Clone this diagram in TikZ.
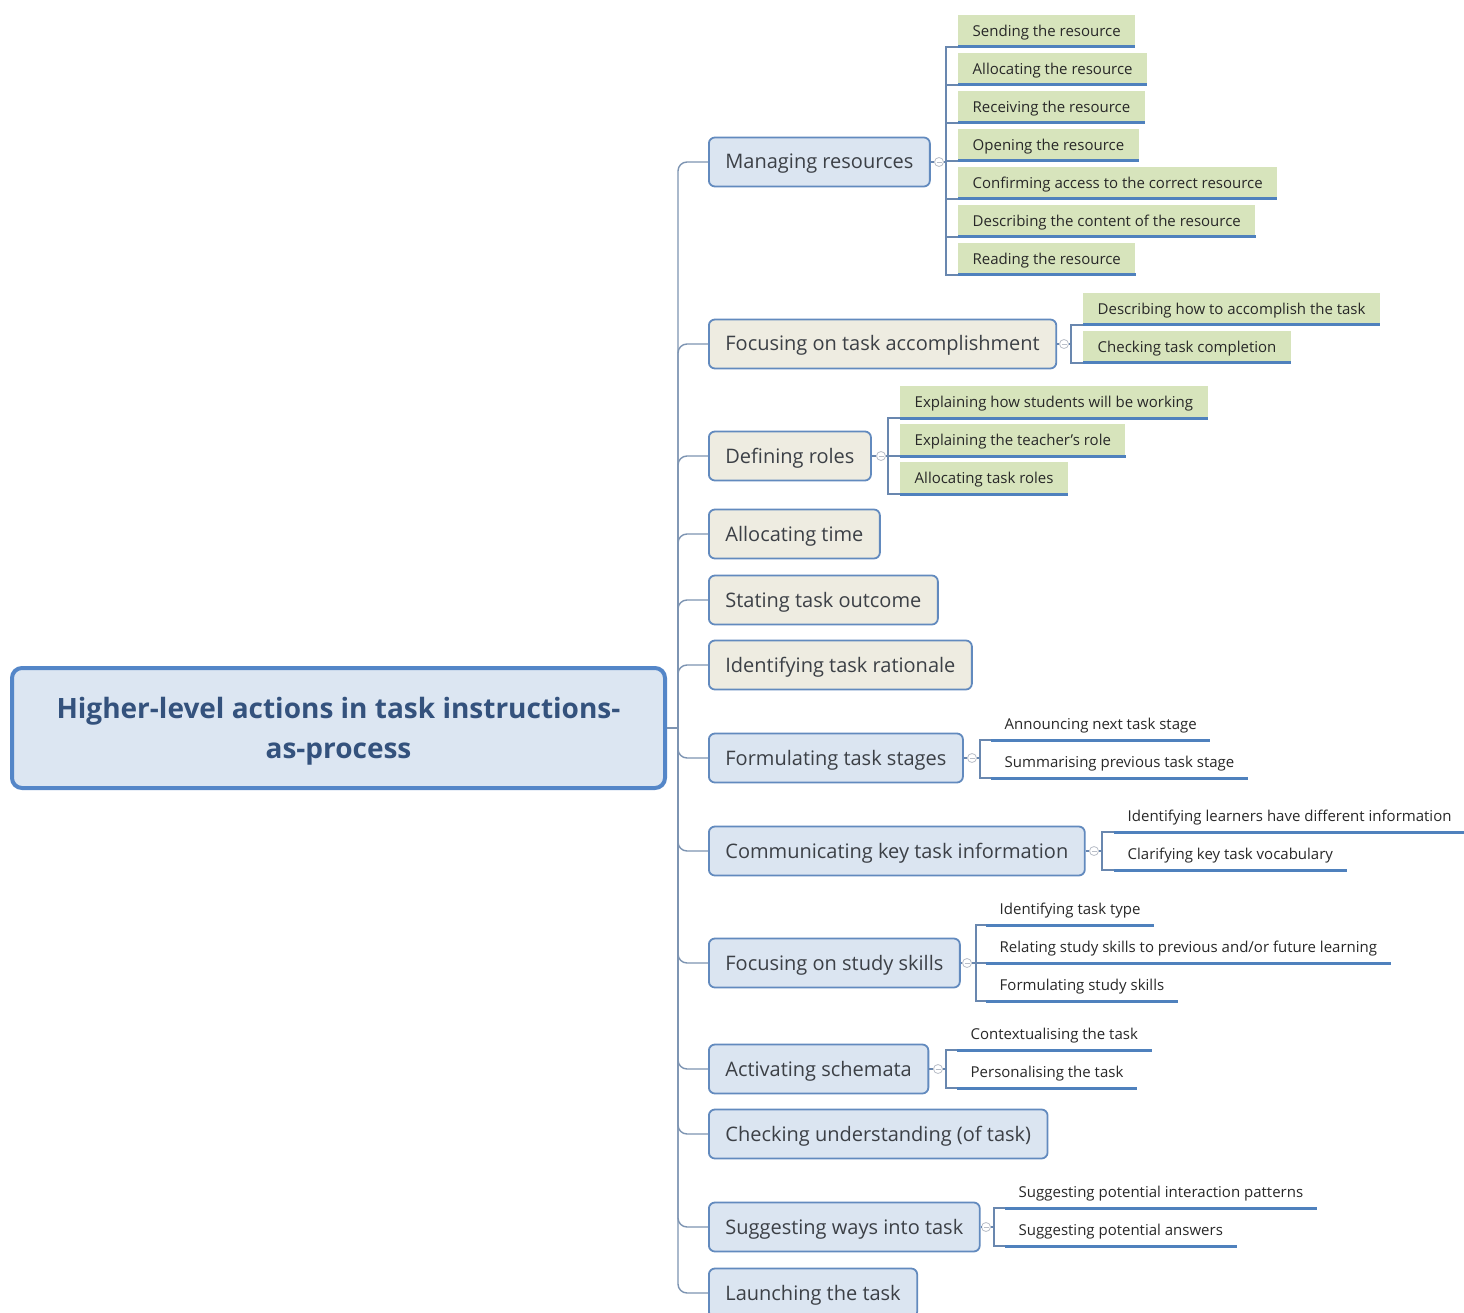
\documentclass[tikz,border=0pt]{standalone}
\usepackage{fontspec}
\setmainfont{Open Sans}
\definecolor{rootfill}{RGB}{220,230,242}
\definecolor{rootdraw}{RGB}{84,134,200}
\definecolor{roottext}{RGB}{52,82,125}
\definecolor{brblue}{RGB}{219,229,241}
\definecolor{brbeige}{RGB}{238,236,225}
\definecolor{brdraw}{RGB}{98,138,190}
\definecolor{brtext}{RGB}{60,64,70}
\definecolor{leafgreen}{RGB}{215,228,188}
\definecolor{uline}{RGB}{79,129,189}
\definecolor{tconncol}{RGB}{125,148,178}
\definecolor{lconncol}{RGB}{105,135,175}
\definecolor{markcol}{RGB}{185,190,200}
\definecolor{leaftext}{RGB}{40,40,40}
\tikzset{
  rootbox/.style={draw=rootdraw, line width=4pt, fill=rootfill, rounded corners=10pt,
    minimum width=653pt, minimum height=120pt},
  roottxt/.style={align=center, text=roottext, inner sep=0pt,
    font=\fontsize{28}{40}\selectfont\bfseries},
  brbox/.style={draw=brdraw, line width=1.8pt, rounded corners=6pt, minimum height=49pt,
    inner xsep=16.5pt, anchor=west, text=brtext, font=\fontsize{20}{24}\selectfont,
    text height=15pt, text depth=1pt},
  brb/.style={brbox, fill=brblue},
  brg/.style={brbox, fill=brbeige},
  leafbase/.style={anchor=south west, minimum height=32pt, inner ysep=0pt, text=leaftext,
    font=\fontsize{15}{18}\selectfont, text height=11pt, text depth=0pt,
    append after command={(\tikzlastnode.south west) edge[uline] (\tikzlastnode.south east)}},
  gleaf/.style={leafbase, fill=leafgreen, inner xsep=14.5pt},
  pleaf/.style={leafbase, inner xsep=13.5pt},
  uline/.style={draw=uline, line width=3pt},
  tconn/.style={draw=tconncol, line width=1.4pt, rounded corners=9pt},
  lconn/.style={draw=lconncol, line width=1.1pt},
  markc/.style={circle, draw=markcol, line width=0.8pt, minimum size=9pt, inner sep=0pt,
    path picture={\draw[markcol, line width=0.8pt] ([xshift=-2.5pt]path picture bounding box.center) -- ([xshift=2.5pt]path picture bounding box.center);}}
}
\begin{document}
\begin{tikzpicture}[x=1pt,y=-1pt]
\useasboundingbox (0,0) rectangle (1464,1313);
\fill[white] (0,0) rectangle (1464,1313);

% root
\node[rootbox] (root) at (338.5,728) {};
\node[roottxt] (roottext) at (338.5,731) {Higher-level actions in task instructions-\\as-process};
\coordinate (rj) at (678,728);

% branches
\node[brb] (b1) at (708,162) {Managing resources};
\node[brg] (b2) at (708,344) {Focusing on task accomplishment};
\node[brg] (b3) at (708,456) {Defining roles};
\node[brg] (b4) at (708,534) {Allocating time};
\node[brg] (b5) at (708,600) {Stating task outcome};
\node[brg] (b6) at (708,665) {Identifying task rationale};
\node[brb] (b7) at (708,758) {Formulating task stages};
\node[brb] (b8) at (708,851) {Communicating key task information};
\node[brb] (b9) at (708,963) {Focusing on study skills};
\node[brb] (b10) at (708,1069) {Activating schemata};
\node[brb] (b11) at (708,1134) {Checking understanding (of task)};
\node[brb] (b12) at (708,1227) {Suggesting ways into task};
\node[brb] (b13) at (708,1293) {Launching the task};

% trunk connectors
\draw[tconn] (root.east) -- (rj);
\foreach \b in {b1,b2,b3,b4,b5,b6,b7,b8,b9,b10,b11,b12,b13}{
  \draw[tconn] (rj) |- (\b.west);
}

% leaves: Managing resources
\node[gleaf] (l1a) at (958,47) {Sending the resource};
\node[gleaf] (l1b) at (958,85) {Allocating the resource};
\node[gleaf] (l1c) at (958,123) {Receiving the resource};
\node[gleaf] (l1d) at (958,161) {Opening the resource};
\node[gleaf] (l1e) at (958,199) {Confirming access to the correct resource};
\node[gleaf] (l1f) at (958,237) {Describing the content of the resource};
\node[gleaf] (l1g) at (958,275) {Reading the resource};
\node[markc] (m1) at (939,162) {};
\coordinate (v1) at (946,162);
\draw[lconn] (b1.east) -- (m1) -- (v1);
\foreach \l in {l1a,l1b,l1c,l1d,l1e,l1f,l1g}{\draw[lconn] (v1) |- (\l.south west);}

% Focusing on task accomplishment
\node[gleaf] (l2a) at (1083,325) {Describing how to accomplish the task};
\node[gleaf] (l2b) at (1083,363) {Checking task completion};
\node[markc] (m2) at (1064,344) {};
\coordinate (v2) at (1071,344);
\draw[lconn] (b2.east) -- (m2) -- (v2);
\foreach \l in {l2a,l2b}{\draw[lconn] (v2) |- (\l.south west);}

% Defining roles
\node[gleaf] (l3a) at (900,418) {Explaining how students will be working};
\node[gleaf] (l3b) at (900,456) {Explaining the teacher's role};
\node[gleaf] (l3c) at (900,494) {Allocating task roles};
\node[markc] (m3) at (881,456) {};
\coordinate (v3) at (888,456);
\draw[lconn] (b3.east) -- (m3) -- (v3);
\foreach \l in {l3a,l3b,l3c}{\draw[lconn] (v3) |- (\l.south west);}

% Formulating task stages
\node[pleaf] (l7a) at (991,740) {Announcing next task stage};
\node[pleaf] (l7b) at (991,778) {Summarising previous task stage};
\node[markc] (m7) at (972,758) {};
\coordinate (v7) at (980,758);
\draw[lconn] (b7.east) -- (m7) -- (v7);
\foreach \l in {l7a,l7b}{\draw[lconn] (v7) |- (\l.south west);}

% Communicating key task information
\node[pleaf] (l8a) at (1114,832) {Identifying learners have different information};
\node[pleaf] (l8b) at (1114,870) {Clarifying key task vocabulary};
\node[markc] (m8) at (1094,851) {};
\coordinate (v8) at (1102,851);
\draw[lconn] (b8.east) -- (m8) -- (v8);
\foreach \l in {l8a,l8b}{\draw[lconn] (v8) |- (\l.south west);}

% Focusing on study skills
\node[pleaf] (l9a) at (986,925) {Identifying task type};
\node[pleaf] (l9b) at (986,963) {Relating study skills to previous and/or future learning};
\node[pleaf] (l9c) at (986,1001) {Formulating study skills};
\node[markc] (m9) at (967,963) {};
\coordinate (v9) at (976,963);
\draw[lconn] (b9.east) -- (m9) -- (v9);
\foreach \l in {l9a,l9b,l9c}{\draw[lconn] (v9) |- (\l.south west);}

% Activating schemata
\node[pleaf] (l10a) at (957,1050) {Contextualising the task};
\node[pleaf] (l10b) at (957,1088) {Personalising the task};
\node[markc] (m10) at (938,1069) {};
\coordinate (v10) at (946,1069);
\draw[lconn] (b10.east) -- (m10) -- (v10);
\foreach \l in {l10a,l10b}{\draw[lconn] (v10) |- (\l.south west);}

% Suggesting ways into task
\node[pleaf] (l12a) at (1005,1208) {Suggesting potential interaction patterns};
\node[pleaf] (l12b) at (1005,1246) {Suggesting potential answers};
\node[markc] (m12) at (986,1227) {};
\coordinate (v12) at (994,1227);
\draw[lconn] (b12.east) -- (m12) -- (v12);
\foreach \l in {l12a,l12b}{\draw[lconn] (v12) |- (\l.south west);}
\end{tikzpicture}
\end{document}
